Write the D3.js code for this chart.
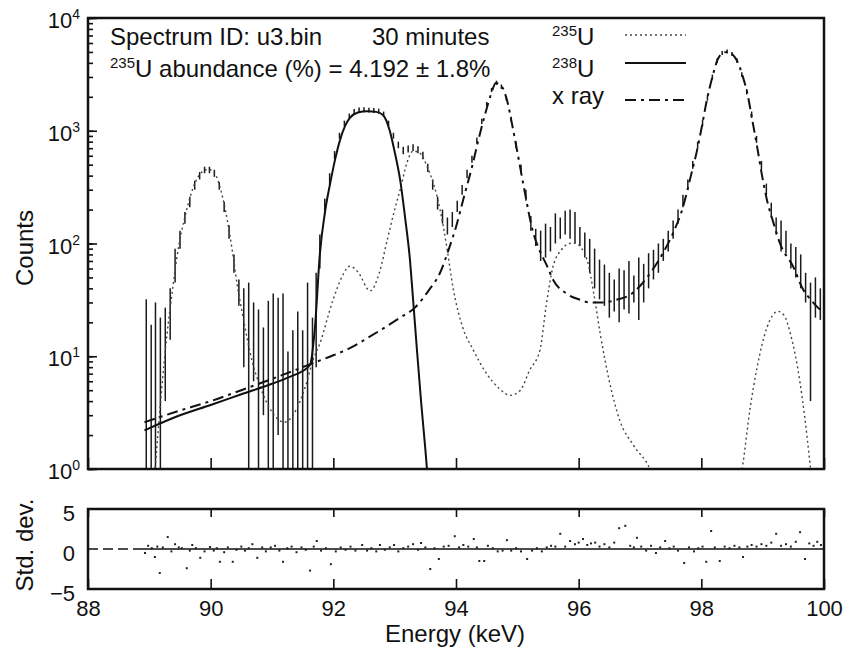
<!DOCTYPE html>
<html>
<head>
<meta charset="utf-8">
<script src="https://cdn.jsdelivr.net/npm/d3@7"></script>
<style>
  body { margin: 0; background: #fff; }
  svg { display: block; font-family: "Liberation Sans", Arial, sans-serif; }
</style>
</head>
<body>
<svg id="chart" width="844" height="648"></svg>
<script>
// fitted components, [energy keV, counts]; null = gap
const u235Curve = [
  [89.05, 0.5], [89.12, 1.5], [89.2, 5], [89.29, 16], [89.37, 36], [89.45, 76],
  [89.6, 190], [89.75, 350], [89.88, 440], [89.96, 455], [90.05, 430], [90.2, 250],
  [90.35, 88], [90.43, 44], [90.53, 22], [90.67, 9.3], [90.8, 5.5], [91.0, 3.2],
  [91.2, 2.6], [91.4, 3.4], [91.55, 5.5], [91.67, 9.3], [91.78, 13], [91.99, 31],
  [92.15, 52], [92.27, 63], [92.4, 56], [92.6, 38], [92.75, 55], [92.88, 108],
  [93.0, 200], [93.09, 300], [93.2, 520], [93.3, 660], [93.4, 640], [93.53, 480],
  [93.74, 200], [93.85, 93], [93.95, 41], [94.11, 18], [94.28, 11.4], [94.5, 7],
  [94.7, 5.2], [94.88, 4.5], [95.05, 5], [95.2, 7.5], [95.37, 11.4], [95.47, 28],
  [95.58, 62], [95.72, 88], [95.85, 100], [95.93, 101], [96.05, 90], [96.14, 71],
  [96.25, 35], [96.35, 16], [96.5, 6], [96.67, 2.7], [96.9, 1.6], [97.16, 1.0],
  [97.3, 0.6], [98.0, null],
  [98.6, 0.6], [98.68, 1.13], [98.79, 3.3], [98.91, 8], [99.07, 18], [99.25, 25],
  [99.35, 23], [99.45, 16], [99.61, 5.8], [99.77, 1.13], [99.82, 0.6]
];

const u238Curve = [
  [88.92, 2.2], [89.5, 3.0], [90.0, 3.7], [90.5, 4.6], [91.0, 5.7], [91.3, 6.6],
  [91.5, 7.4], [91.62, 8.4], [91.7, 18], [91.78, 80], [91.87, 200], [91.95, 345],
  [92.03, 560], [92.11, 830], [92.19, 1100], [92.27, 1300], [92.4, 1450], [92.55, 1490],
  [92.7, 1470], [92.81, 1380], [92.92, 1000], [93.0, 650], [93.09, 365], [93.17, 170],
  [93.25, 71], [93.3, 32], [93.36, 12], [93.43, 4], [93.5, 1.5], [93.56, 0.6]
];

const xrayCurve = [
  [88.92, 2.6], [89.5, 3.3], [90.0, 4.0], [90.5, 5.0], [91.0, 6.3], [91.5, 8.0],
  [91.67, 8.7], [92.0, 10.2], [92.27, 11.8], [92.6, 15], [93.09, 22], [93.33, 27],
  [93.55, 38], [93.74, 55], [93.9, 95], [94.0, 140], [94.13, 260], [94.26, 475],
  [94.37, 850], [94.48, 1440], [94.57, 2100], [94.65, 2650], [94.74, 2500], [94.83, 1880],
  [94.92, 1100], [95.0, 650], [95.1, 330], [95.26, 124], [95.37, 85], [95.48, 64],
  [95.58, 48], [95.8, 36], [96.0, 32], [96.2, 30], [96.4, 30], [96.6, 31.5],
  [96.87, 36], [97.0, 42], [97.2, 58], [97.35, 78], [97.54, 124], [97.7, 210],
  [97.82, 380], [97.93, 670], [98.01, 1100], [98.09, 1870], [98.18, 3000], [98.26, 4200],
  [98.34, 4850], [98.42, 5000], [98.5, 4800], [98.58, 4200], [98.67, 3100], [98.75, 2150],
  [98.83, 1250], [98.91, 720], [98.99, 400], [99.07, 243], [99.18, 150], [99.28, 101],
  [99.5, 62], [99.66, 39], [99.8, 31], [99.94, 26], [100.0, 25]
];

// measured spectrum: [energy, lower, upper] of each error bar (below 1 = off axis)
const spectrum = [
  [88.95, 0.3, 32], [89.03, 0.3, 19], [89.10, 0.3, 30], [89.18, 0.3, 22], [89.26, 4, 27],
  [89.34, 14, 40], [89.42, 45, 90], [89.50, 90, 130], [89.58, 150, 190], [89.66, 210, 260],
  [89.74, 300, 360], [89.82, 370, 430], [89.90, 420, 480], [89.98, 420, 480], [90.06, 390, 450],
  [90.14, 300, 350], [90.22, 190, 235], [90.30, 110, 145], [90.38, 55, 80], [90.46, 28, 48],
  [90.54, 8, 40], [90.62, 0.3, 45], [90.70, 6, 30], [90.78, 0.3, 26], [90.86, 3, 18],
  [90.94, 0.3, 31], [91.02, 0.3, 36], [91.10, 2, 33], [91.18, 0.3, 36], [91.26, 0.3, 11],
  [91.34, 0.3, 17], [91.42, 0.3, 25], [91.50, 0.3, 17], [91.58, 0.3, 45], [91.66, 0.3, 22],
  [91.72, 8, 55], [91.78, 60, 120], [91.86, 180, 250], [91.94, 330, 420], [92.02, 560, 660],
  [92.10, 850, 960], [92.18, 1100, 1230], [92.26, 1280, 1420], [92.34, 1400, 1560], [92.42, 1450, 1610],
  [92.50, 1460, 1620], [92.58, 1450, 1600], [92.66, 1440, 1590], [92.74, 1420, 1570], [92.82, 1330, 1480],
  [92.90, 1100, 1230], [92.98, 850, 960], [93.06, 700, 800], [93.14, 620, 720], [93.22, 640, 740],
  [93.30, 660, 760], [93.38, 630, 730], [93.46, 560, 650], [93.54, 430, 510], [93.62, 300, 370],
  [93.70, 200, 260], [93.78, 150, 200], [93.86, 120, 170], [93.94, 140, 190], [94.02, 190, 240],
  [94.10, 270, 330], [94.18, 380, 450], [94.26, 520, 600], [94.34, 770, 870], [94.42, 1150, 1280],
  [94.50, 1650, 1800], [94.58, 2200, 2400], [94.66, 2550, 2780], [94.74, 2350, 2570], [94.82, 1850, 2030],
  [94.90, 1200, 1330], [94.98, 700, 800], [95.06, 420, 500], [95.14, 240, 300], [95.22, 130, 175],
  [95.30, 95, 135], [95.38, 70, 130], [95.46, 75, 150], [95.54, 85, 140], [95.62, 100, 185],
  [95.70, 110, 170], [95.78, 120, 195], [95.86, 110, 200], [95.94, 100, 190], [96.02, 95, 140],
  [96.10, 75, 125], [96.18, 55, 110], [96.26, 40, 90], [96.34, 32, 72], [96.42, 28, 65],
  [96.50, 22, 55], [96.58, 25, 48], [96.66, 20, 60], [96.74, 26, 58], [96.82, 24, 70],
  [96.90, 30, 52], [96.98, 21, 75], [97.06, 30, 66], [97.14, 40, 82], [97.22, 48, 88],
  [97.30, 55, 100], [97.38, 70, 110], [97.46, 85, 130], [97.54, 110, 160], [97.62, 150, 200],
  [97.70, 210, 270], [97.78, 300, 370], [97.86, 460, 540], [97.94, 700, 800], [98.02, 1100, 1250],
  [98.10, 1850, 2050], [98.18, 2850, 3150], [98.26, 4000, 4400], [98.34, 4700, 5100], [98.42, 4850, 5250],
  [98.50, 4600, 5000], [98.58, 4000, 4400], [98.66, 3000, 3300], [98.74, 2100, 2350], [98.82, 1300, 1480],
  [98.90, 780, 900], [98.98, 450, 540], [99.06, 270, 340], [99.14, 170, 230], [99.22, 120, 170],
  [99.30, 85, 160], [99.38, 82, 130], [99.46, 60, 100], [99.54, 50, 93], [99.62, 40, 80],
  [99.70, 30, 55], [99.78, 4, 45], [99.86, 22, 50], [99.94, 21, 40]
];

// residuals in std. dev.
const residuals = [
  [88.93, -0.5], [88.98, 0.4], [89.04, 0.1], [89.09, -1], [89.13, 0.3], [89.17, -3], [89.22, 0.2],
  [89.30, 1.5], [89.36, -0.3], [89.42, 0.6], [89.48, 0.2], [89.53, 0.1], [89.61, -2.4], [89.66, -0.2],
  [89.70, 0.5], [89.76, 0.1], [89.83, -1.1], [89.90, -0.3], [89.99, 0.25], [90.05, -0.2], [90.10, 0.1],
  [90.15, -1.6], [90.22, -0.4], [90.28, 0.2], [90.36, -1.6], [90.42, -0.1], [90.50, 0.3], [90.56, -0.2],
  [90.62, 0.1], [90.68, 0.6], [90.76, -1.1], [90.84, 0.2], [90.90, -0.3], [90.98, 0.2], [91.05, 0.4],
  [91.12, -0.2], [91.18, -1.6], [91.25, 0.1], [91.32, 0.3], [91.40, -0.4], [91.48, 0.2], [91.55, -0.1],
  [91.62, -2.7], [91.68, 0.3], [91.73, 1], [91.80, -0.2], [91.88, 0.1], [91.96, -1.9], [92.04, -0.3],
  [92.12, 0.2], [92.20, -0.1], [92.28, 0.3], [92.36, -0.2], [92.47, 0.5], [92.55, -0.2], [92.62, 0.1],
  [92.70, -0.3], [92.76, 0.5], [92.84, -0.1], [92.92, 0.2], [92.99, 0.5], [93.06, -0.3], [93.14, 0.1],
  [93.22, 0.3], [93.30, 0.6], [93.38, -0.1], [93.43, 0.75], [93.50, 0.2], [93.58, -2.5], [93.65, 0.1],
  [93.72, -1.25], [93.80, 0.3], [93.88, 0.4], [93.98, 1.6], [94.05, 0.2], [94.12, 0.5], [94.20, 0.3],
  [94.29, 1.25], [94.34, 0.2], [94.38, -1.5], [94.46, -1.5], [94.52, 0.4], [94.60, 0.1], [94.68, -0.3],
  [94.76, -0.2], [94.83, 1.1], [94.90, -0.2], [94.98, 0.1], [95.06, -0.3], [95.16, -1.25], [95.24, -0.2],
  [95.32, 0.1], [95.40, -0.3], [95.48, 0.2], [95.55, 0.4], [95.62, 0.3], [95.70, 1.9], [95.78, 0.3],
  [95.86, 1], [95.94, 0.6], [96.00, 0.8], [96.07, 1.25], [96.14, 0.5], [96.20, 0.7], [96.27, 0.8],
  [96.34, 0.3], [96.42, 0.6], [96.50, 0.2], [96.58, 0.8], [96.66, 2.6], [96.76, 2.9], [96.84, 0.4],
  [96.90, 0.2], [96.95, 1.4], [97.02, 0.3], [97.10, -0.2], [97.18, 0.4], [97.26, -0.5], [97.33, 0.2],
  [97.41, 1], [97.48, 0.1], [97.55, 0.3], [97.62, -0.2], [97.72, -1.75], [97.80, 0.2], [97.88, -0.3],
  [97.95, 0.1], [98.02, 0.3], [98.08, -1.6], [98.16, 2.25], [98.22, 0.2], [98.30, -1.5], [98.38, 0.3],
  [98.46, 0.1], [98.54, 0.4], [98.62, 0.2], [98.68, -1], [98.75, 0.3], [98.82, 0.5], [98.90, 0.3],
  [98.98, 0.6], [99.06, 0.4], [99.14, 0.8], [99.22, 1.9], [99.30, 0.4], [99.38, 0.6], [99.46, 0.3],
  [99.54, 0.9], [99.61, 2.1], [99.69, -1.25], [99.76, 0.7], [99.83, 0.4], [99.89, 0.9], [99.95, 0.5]
];

const energyTicks = [88, 90, 92, 94, 96, 98, 100];
const countDecades = [1, 10, 100, 1000, 10000];
const countExponents = ['0', '1', '2', '3', '4'];
const residualTicks = [-5, 0, 5];

const legendItems = [
  { iso: '235', name: 'U', dash: '2,3', width: 1.4, color: '#444' },
  { iso: '238', name: 'U', dash: null, width: 2, color: '#111' },
  { iso: '', name: 'x ray', dash: '11,5,3,5', width: 2, color: '#111' }
];

const svg = d3.select('#chart');

const x = d3.scaleLinear().domain([88, 100]).range([88, 824]);
const y = d3.scaleLog().domain([1, 1e4]).range([469, 18]);
const yr = d3.scaleLinear().domain([-5, 5]).range([589, 509]);

svg.append('clipPath').attr('id', 'clipMain')
  .append('rect').attr('x', 88).attr('y', 18).attr('width', 736).attr('height', 451);

const line = d3.line()
  .defined(d => d[1] != null)
  .x(d => x(d[0]))
  .y(d => y(d[1]))
  .curve(d3.curveMonotoneX);

const main = svg.append('g').attr('clip-path', 'url(#clipMain)');

// data bars
main.selectAll('line.bar')
  .data(spectrum)
  .join('line')
  .attr('class', 'bar')
  .attr('x1', d => x(d[0]))
  .attr('x2', d => x(d[0]))
  .attr('y1', d => y(d[1]))
  .attr('y2', d => y(d[2]))
  .attr('stroke', '#1a1a1a')
  .attr('stroke-width', 1.5);

// fit components
main.append('path').datum(u235Curve)
  .attr('d', line).attr('fill', 'none')
  .attr('stroke', '#444').attr('stroke-width', 1.4).attr('stroke-dasharray', '2,3');

main.append('path').datum(xrayCurve)
  .attr('d', line).attr('fill', 'none')
  .attr('stroke', '#111').attr('stroke-width', 2).attr('stroke-dasharray', '11,5,3,5');

main.append('path').datum(u238Curve)
  .attr('d', line).attr('fill', 'none')
  .attr('stroke', '#111').attr('stroke-width', 2);

// main axes (inward ticks)
const yMinor = svg.append('g').attr('transform', 'translate(88,0)')
  .call(d3.axisLeft(y).tickValues(y.ticks()).tickSize(-5).tickFormat(''));
const yMajor = svg.append('g').attr('transform', 'translate(88,0)')
  .call(d3.axisLeft(y).tickValues(countDecades).tickSize(-9).tickFormat(''));
const xMain = svg.append('g').attr('transform', 'translate(0,469)')
  .call(d3.axisBottom(x).tickValues(energyTicks).tickSize(-11).tickFormat(''));
[yMinor, yMajor, xMain].forEach(g => {
  g.select('.domain').remove();
  g.selectAll('line').attr('stroke', '#111').attr('stroke-width', 1.6);
});

svg.append('rect')
  .attr('x', 88).attr('y', 18).attr('width', 736).attr('height', 451)
  .attr('fill', 'none').attr('stroke', '#111').attr('stroke-width', 2.5);

// log labels with superscripts
const yLab = svg.append('g').attr('font-size', 22).attr('fill', '#111');
countDecades.forEach((v, i) => {
  const t = yLab.append('text')
    .attr('x', 80).attr('y', y(v) + 10)
    .attr('text-anchor', 'end');
  t.append('tspan').text('10');
  t.append('tspan').attr('font-size', 14).attr('dy', -9).text(countExponents[i]);
});

svg.append('text')
  .attr('transform', 'translate(33,248) rotate(-90)')
  .attr('text-anchor', 'middle').attr('font-size', 24).attr('fill', '#111')
  .text('Counts');

// annotations
const note = svg.append('g').attr('font-size', 24).attr('fill', '#111');
note.append('text').attr('x', 110).attr('y', 45).text('Spectrum ID: u3.bin');
note.append('text').attr('x', 372).attr('y', 45).text('30 minutes');
const ab = note.append('text').attr('x', 110).attr('y', 77);
ab.append('tspan').attr('font-size', 15).attr('dy', -9).text('235');
ab.append('tspan').attr('dy', 9).text('U abundance (%) = 4.192 \u00b1 1.8%');

// legend
const legend = svg.append('g').attr('font-size', 24).attr('fill', '#111');
const legendY = [45, 77, 104];
const lineY = [35, 63, 100];
legendItems.forEach((d, i) => {
  const t = legend.append('text').attr('x', 552).attr('y', legendY[i]);
  if (d.iso) {
    t.append('tspan').attr('font-size', 15).attr('dy', -9).text(d.iso);
    t.append('tspan').attr('dy', 9).text(d.name);
  } else {
    t.text(d.name);
  }
  legend.append('line')
    .attr('x1', 625).attr('x2', 686).attr('y1', lineY[i]).attr('y2', lineY[i])
    .attr('stroke', d.color).attr('stroke-width', d.width)
    .attr('stroke-dasharray', d.dash);
});

// residual panel
const res = svg.append('g');
res.append('line')
  .attr('x1', x(88)).attr('x2', x(88.75)).attr('y1', yr(0)).attr('y2', yr(0))
  .attr('stroke', '#111').attr('stroke-width', 1.5).attr('stroke-dasharray', '10,5');
res.append('line')
  .attr('x1', x(88.75)).attr('x2', x(100)).attr('y1', yr(0)).attr('y2', yr(0))
  .attr('stroke', '#111').attr('stroke-width', 1.5);

res.selectAll('rect.pt')
  .data(residuals)
  .join('rect')
  .attr('class', 'pt')
  .attr('x', d => x(d[0]) - 1)
  .attr('y', d => yr(d[1]) - 1)
  .attr('width', 2).attr('height', 2)
  .attr('fill', '#222');

const xTop = svg.append('g').attr('transform', 'translate(0,509)')
  .call(d3.axisTop(x).tickValues(energyTicks).tickSize(-8).tickFormat(''));
const xBot = svg.append('g').attr('transform', 'translate(0,589)')
  .call(d3.axisBottom(x).tickValues(energyTicks).tickSize(-10).tickPadding(11).tickFormat(d3.format('d')));
const yRes = svg.append('g').attr('transform', 'translate(88,0)')
  .call(d3.axisLeft(yr).tickValues(residualTicks).tickSize(0).tickPadding(13).tickFormat(d3.format('d')));
[xTop, xBot, yRes].forEach(g => {
  g.select('.domain').remove();
  g.selectAll('line').attr('stroke', '#111').attr('stroke-width', 1.6);
  g.selectAll('text').attr('font-size', 22).attr('fill', '#111')
    .attr('font-family', '"Liberation Sans", Arial, sans-serif');
});
yRes.selectAll('text').attr('dy', '0.52em');

svg.append('rect')
  .attr('x', 88).attr('y', 509).attr('width', 736).attr('height', 80)
  .attr('fill', 'none').attr('stroke', '#111').attr('stroke-width', 2.5);

svg.append('text')
  .attr('transform', 'translate(33,545) rotate(-90)')
  .attr('text-anchor', 'middle').attr('font-size', 24).attr('fill', '#111')
  .text('Std. dev.');

svg.append('text')
  .attr('x', 455).attr('y', 642)
  .attr('text-anchor', 'middle').attr('font-size', 24).attr('fill', '#111')
  .text('Energy (keV)');
</script>
</body>
</html>
